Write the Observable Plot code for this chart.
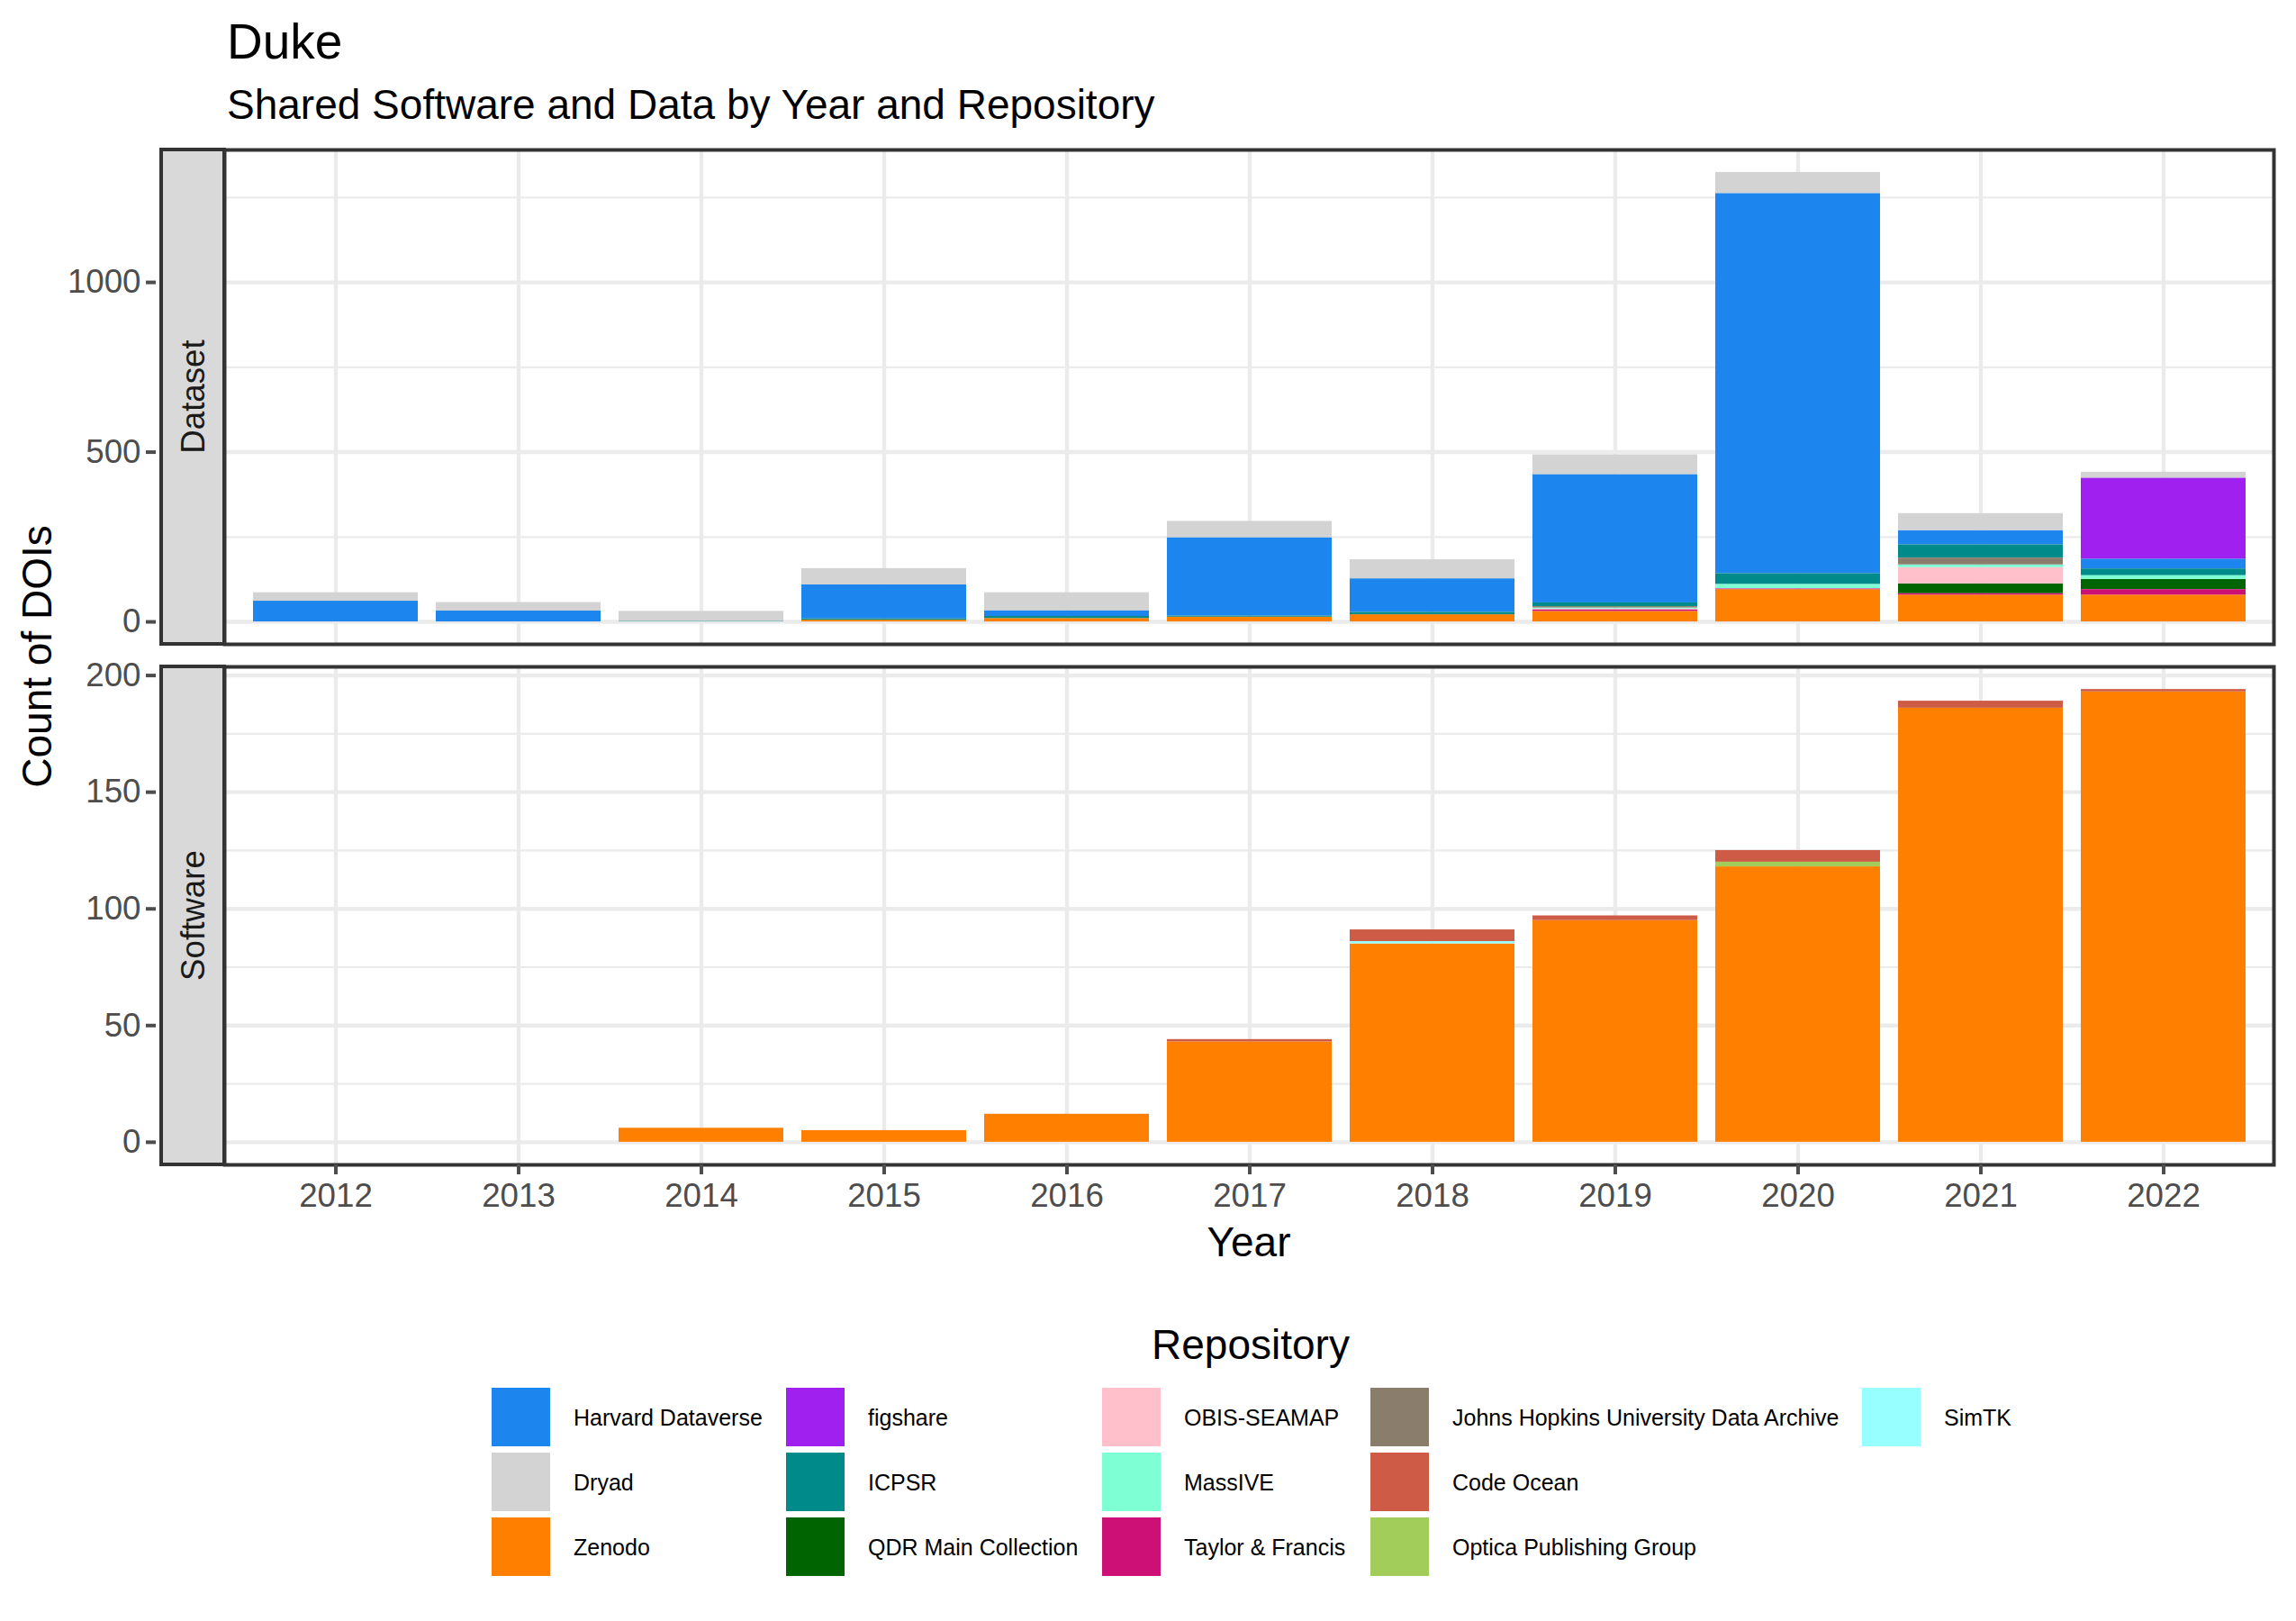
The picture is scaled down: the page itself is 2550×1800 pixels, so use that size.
<!DOCTYPE html>
<html><head><meta charset="utf-8">
<script src="https://cdn.jsdelivr.net/npm/d3@7"></script>
<script src="https://cdn.jsdelivr.net/npm/@observablehq/plot@0.6"></script>
<style>
body{margin:0;background:#fff;}
#root{position:relative;width:2550px;height:1800px;background:#fff;overflow:hidden;}
#root svg{position:absolute;left:0;}
</style></head><body><div id="root"></div>
<script>
// ---------- data ----------
const years = [2012, 2013, 2014, 2015, 2016, 2017, 2018, 2019, 2020, 2021, 2022];
const repositories = ["Harvard Dataverse", "Dryad", "Zenodo", "figshare", "ICPSR", "QDR Main Collection",
  "OBIS-SEAMAP", "MassIVE", "Taylor & Francis", "Johns Hopkins University Data Archive", "Code Ocean",
  "Optica Publishing Group", "SimTK"];
const repoColors = ["#1C86EE", "#D3D3D3", "#FF7F00", "#A020F0", "#008B8B", "#006400",
  "#FFC0CB", "#7FFFD4", "#CD1076", "#8B7D6B", "#CD5B45", "#A2CD5A", "#97FFFF"];
// stacking order, bottom to top
const stackOrder = ["Zenodo", "Taylor & Francis", "SimTK", "QDR Main Collection", "Optica Publishing Group",
  "OBIS-SEAMAP", "MassIVE", "Johns Hopkins University Data Archive", "ICPSR", "Harvard Dataverse",
  "figshare", "Dryad", "Code Ocean"];

// Dataset counts per year (2012..2022)
const dsHarvard  = [61, 32, 0, 100, 17, 231, 99, 378, 1120, 42, 29];
const dsDryad    = [25, 25, 30, 48, 53, 48, 56, 58, 62, 50, 18];
const dsZenodo   = [0, 0, 0, 5, 10, 14, 21, 31, 95, 79, 79];
const dsFigshare = [0, 0, 0, 0, 0, 0, 0, 0, 0, 0, 238];
const dsICPSR    = [0, 0, 1, 4, 6, 3, 7, 11, 32, 39, 20];
const dsQDR      = [0, 0, 0, 0, 0, 0, 0, 0, 0, 29, 30];
const dsOBIS     = [0, 0, 0, 0, 0, 0, 0, 3, 0, 48, 0];
const dsMassIVE  = [0, 0, 0, 0, 0, 0, 0, 3, 13, 8, 11];
const dsTaylor   = [0, 0, 0, 0, 0, 0, 0, 4, 2, 4, 16];
const dsJHU      = [0, 0, 0, 0, 0, 0, 0, 4, 0, 20, 0];

// Software counts per year (2012..2022)
const swZenodo    = [0, 0, 6, 5, 12, 43, 85, 95, 118, 186, 193];
const swCodeOcean = [0, 0, 0, 0, 0, 1, 5, 2, 5, 3, 1];
const swSimTK     = [0, 0, 0, 0, 0, 0, 1, 0, 0, 0, 0];
const swOptica    = [0, 0, 0, 0, 0, 0, 0, 0, 2, 0, 0];

const datasetTicks = [0, 500, 1000];
const datasetMinor = [250, 750, 1250];
const softwareTicks = [0, 50, 100, 150, 200];
const softwareMinor = [25, 75, 125, 175];

// ---------- build tables ----------
function toRows(series) {
  const rows = [];
  for (const [repo, vals] of series) vals.forEach((v, i) => { if (v > 0) rows.push({year: years[i], repo, count: v}); });
  return rows;
}
const datasetRows = toRows([["Harvard Dataverse", dsHarvard], ["Dryad", dsDryad], ["Zenodo", dsZenodo],
  ["figshare", dsFigshare], ["ICPSR", dsICPSR], ["QDR Main Collection", dsQDR], ["OBIS-SEAMAP", dsOBIS],
  ["MassIVE", dsMassIVE], ["Taylor & Francis", dsTaylor], ["Johns Hopkins University Data Archive", dsJHU]]);
const softwareRows = toRows([["Zenodo", swZenodo], ["Code Ocean", swCodeOcean], ["SimTK", swSimTK],
  ["Optica Publishing Group", swOptica]]);

// ---------- layout ----------
const FONT = '"Liberation Sans", Arial, Helvetica, sans-serif';
const root = document.getElementById("root");
const ML = 249, MR = 25, MT = 20, AXISX = 173, STRIP_L = 179;

function panel({rows, ticks, minor, strip, top, height, marginBottom, xAxis}) {
  const totals = d3.rollup(rows, v => d3.sum(v, d => d.count), d => d.year);
  const max = d3.max(totals.values());
  const svg = Plot.plot({
    width: 2550, height, marginTop: MT, marginLeft: ML, marginRight: MR, marginBottom,
    style: {fontFamily: FONT, background: "transparent", overflow: "visible"},
    x: {type: "band", domain: years, paddingInner: 0.1, paddingOuter: 0.15, align: 0.5, axis: null},
    y: {domain: [-0.05 * max, 1.05 * max], axis: null},
    color: {type: "ordinal", domain: repositories, range: repoColors},
    marks: [
      Plot.gridY(minor, {stroke: "#EBEBEB", strokeOpacity: 1, strokeWidth: 2.2}),
      Plot.gridY(ticks, {stroke: "#EBEBEB", strokeOpacity: 1, strokeWidth: 4.4}),
      Plot.gridX(years, {stroke: "#EBEBEB", strokeOpacity: 1, strokeWidth: 4.4}),
      Plot.barY(rows, {x: "year", y: "count", fill: "repo", order: stackOrder}),
      Plot.frame({stroke: "#333333", strokeWidth: 4}),
      Plot.axisY(ticks, {anchor: "left", tickSize: 11, tickPadding: 6, dx: -(ML - AXISX), color: "#4D4D4D",
        strokeWidth: 4, fontSize: 36.7, tickFormat: d => String(d), label: null}),
      ...(xAxis ? [
        Plot.axisX(years, {anchor: "bottom", tickSize: 11, tickPadding: 9, color: "#4D4D4D", strokeWidth: 4,
          fontSize: 36.7, tickFormat: d => String(d), label: null})
      ] : [])
    ]
  });
  svg.style.top = top + "px";
  const ph = height - MT - marginBottom;
  const g = d3.select(svg).append("g");
  g.append("rect").attr("x", STRIP_L).attr("y", MT).attr("width", ML - STRIP_L).attr("height", ph)
    .attr("fill", "#D9D9D9").attr("stroke", "#333333").attr("stroke-width", 4);
  const cx = (STRIP_L + ML) / 2, cy = MT + ph / 2;
  g.append("text").attr("transform", `translate(${cx + 13},${cy}) rotate(-90)`)
    .attr("text-anchor", "middle").attr("font-family", FONT).attr("font-size", 36.7)
    .attr("fill", "#1A1A1A").text(strip);
  root.appendChild(svg);
}

panel({rows: datasetRows, ticks: datasetTicks, minor: datasetMinor, strip: "Dataset",
  top: 146, height: 589, marginBottom: 20, xAxis: false});
panel({rows: softwareRows, ticks: softwareTicks, minor: softwareMinor, strip: "Software",
  top: 720, height: 683, marginBottom: 110, xAxis: true});

// ---------- titles, axis titles, legend ----------
const ov = d3.select(root).append("svg").attr("width", 2550).attr("height", 1800)
  .style("top", "0px").style("font-family", FONT);
ov.append("text").attr("x", 252).attr("y", 65).attr("font-size", 55).attr("fill", "#000").text("Duke");
ov.append("text").attr("x", 252).attr("y", 132).attr("font-size", 46).attr("fill", "#000")
  .text("Shared Software and Data by Year and Repository");
ov.append("text").attr("transform", "translate(57,729) rotate(-90)").attr("text-anchor", "middle")
  .attr("font-size", 46).attr("fill", "#000").text("Count of DOIs");
ov.append("text").attr("x", (ML + 2550 - MR) / 2).attr("y", 1395).attr("text-anchor", "middle")
  .attr("font-size", 46).attr("fill", "#000").text("Year");
ov.append("text").attr("x", 1389).attr("y", 1509).attr("text-anchor", "middle")
  .attr("font-size", 46).attr("fill", "#000").text("Repository");

const colX = [546, 873, 1224, 1522, 2068];
const rowY = [1541, 1613, 1685];
const KEY = 65;
repositories.forEach((r, i) => {
  const c = Math.floor(i / 3), rr = i % 3;
  const x = colX[c], y = rowY[rr];
  ov.append("rect").attr("x", x).attr("y", y).attr("width", KEY).attr("height", KEY)
    .attr("fill", repoColors[i]);
  ov.append("text").attr("x", x + 91).attr("y", y + KEY / 2 + 9).attr("font-size", 25)
    .attr("fill", "#000").text(r);
});
</script></body></html>
